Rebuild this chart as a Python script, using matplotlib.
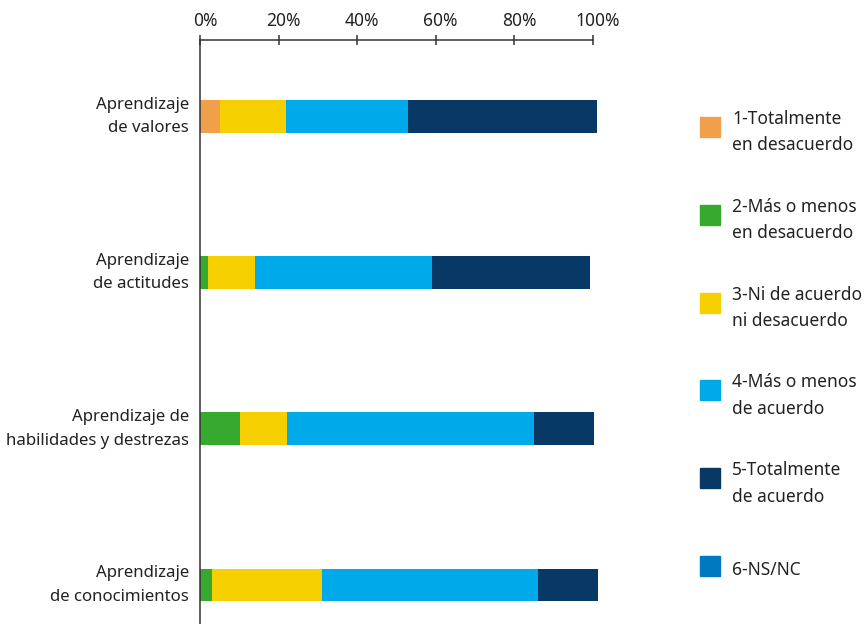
import numpy as np
import matplotlib
matplotlib.use("Agg")
import matplotlib.pyplot as plt
import matplotlib.transforms as mtransforms
from matplotlib.patches import Rectangle

plt.rcParams['font.family'] = ['Noto Sans', 'DejaVu Sans']

categorias = ["Aprendizaje\nde valores",
              "Aprendizaje\nde actitudes",
              "Aprendizaje de\nhabilidades y destrezas",
              "Aprendizaje\nde conocimientos"]

# porcentajes por nivel de acuerdo
totalmente_desacuerdo = [5.1, 0.0, 0.0, 0.0]
mas_menos_desacuerdo = [0.0, 2.0, 10.2, 3.1]
ni_acuerdo = [16.8, 12.0, 12.0, 28.0]
mas_menos_acuerdo = [31.1, 45.1, 62.9, 55.0]
totalmente_acuerdo = [48.0, 40.1, 15.3, 15.2]
ns_nc = [0.0, 0.0, 0.0, 0.0]

series = [totalmente_desacuerdo, mas_menos_desacuerdo, ni_acuerdo,
          mas_menos_acuerdo, totalmente_acuerdo, ns_nc]
etiquetas = ["1-Totalmente\nen desacuerdo", "2-Más o menos\nen desacuerdo",
             "3-Ni de acuerdo\nni desacuerdo", "4-Más o menos\nde acuerdo",
             "5-Totalmente\nde acuerdo", "6-NS/NC"]
colores = ["#F0A04B", "#36A92F", "#F5CF00", "#00A9E9", "#083866", "#0079C2"]

ticks = [0, 20, 40, 60, 80, 100]
tick_labels = ["0%", "20%", "40%", "60%", "80%", "100%"]

texto = "#222222"
fs = 12.5

fig = plt.figure(figsize=(8.67, 6.24), dpi=100)
ax = fig.add_axes([200 / 867, 0, (592.7 - 200) / 867, 1 - 40 / 624])

y = np.arange(len(categorias))
left = np.zeros(len(categorias))
for vals, col in zip(series, colores):
    ax.barh(y, vals, left=left, height=0.21, color=col, clip_on=False)
    left += np.array(vals)

ax.set_xlim(0, 100)
ax.set_ylim(3.25, -0.49)

ax.xaxis.tick_top()
ax.set_xticks(ticks)
ax.set_xticklabels(tick_labels, fontsize=fs, color=texto)
ax.tick_params(axis='x', direction='inout', length=7, width=1.1, color='#333333', pad=4)
shift = mtransforms.ScaledTranslation(5 / 100, 0, fig.dpi_scale_trans)
for lbl in ax.get_xticklabels():
    lbl.set_transform(lbl.get_transform() + shift)

ax.set_yticks(y)
ax.set_yticklabels(categorias, fontsize=12.1, color=texto, linespacing=1.65)
ax.tick_params(axis='y', length=0, pad=8)
shift_up = mtransforms.ScaledTranslation(0, 6 / 100, fig.dpi_scale_trans)
for lbl in ax.get_yticklabels():
    lbl.set_transform(lbl.get_transform() + shift_up)

for s in ['right', 'bottom']:
    ax.spines[s].set_visible(False)
for s in ['top', 'left']:
    ax.spines[s].set_color('#333333')
    ax.spines[s].set_linewidth(1.1)

# leyenda a la derecha
for i, (lab, col) in enumerate(zip(etiquetas, colores)):
    cy = 127 + i * 87.8
    fig.add_artist(Rectangle((700 / 867, 1 - (cy + 10) / 624), 20 / 867, 20 / 624,
                             transform=fig.transFigure, color=col))
    if "\n" in lab:
        fig.text(732 / 867, 1 - (cy - 17) / 624, lab, fontsize=fs, color=texto,
                 va='top', ha='left', linespacing=1.6)
    else:
        fig.text(732 / 867, 1 - (cy + 4) / 624, lab, fontsize=fs, color=texto,
                 va='center', ha='left')

fig.savefig("out.png", dpi=100)
